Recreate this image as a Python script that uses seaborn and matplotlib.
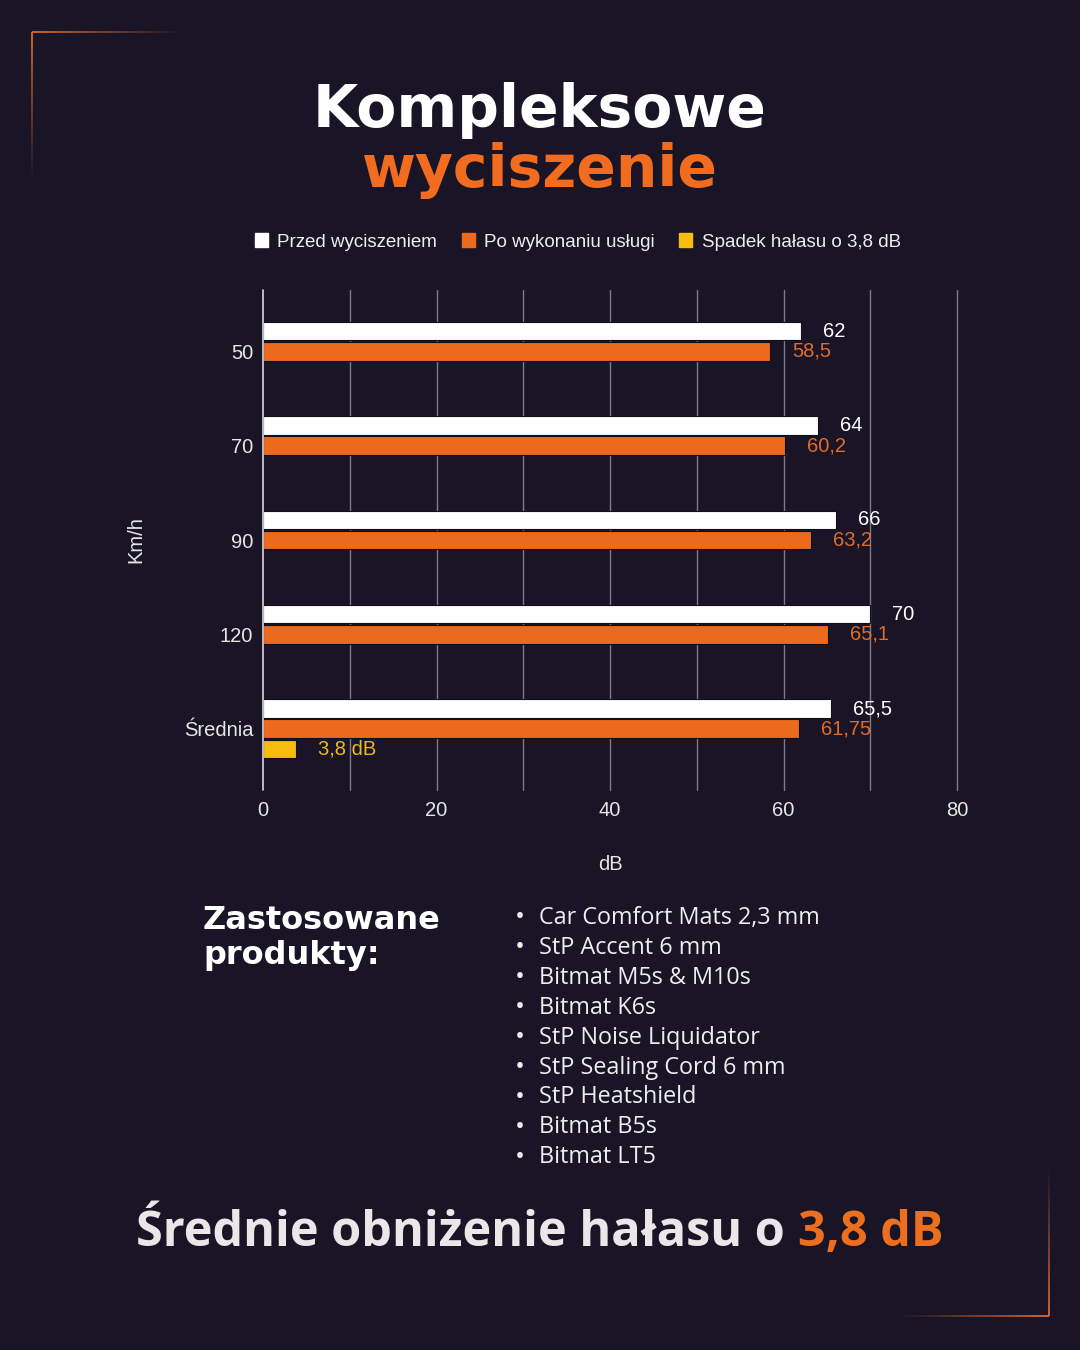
import numpy as np
import pandas as pd
import matplotlib
matplotlib.use("Agg")
import matplotlib.pyplot as plt
import seaborn as sns
from matplotlib.collections import LineCollection
from matplotlib.patches import Rectangle

# ---------------- data ----------------
categories = ["50", "70", "90", "120", "Średnia"]
before_vals = [62, 64, 66, 70, 65.5]
after_vals = [58.5, 60.2, 63.2, 65.1, 61.75]
drop_category = ["Średnia"]
drop_vals = [3.8]
series_names = ["Przed wyciszeniem", "Po wykonaniu usługi", "Spadek hałasu o 3,8 dB"]
x_ticks = [0, 20, 40, 60, 80]
products = ["Car Comfort Mats 2,3 mm", "StP Accent 6 mm", "Bitmat M5s & M10s",
            "Bitmat K6s", "StP Noise Liquidator", "StP Sealing Cord 6 mm",
            "StP Heatshield", "Bitmat B5s", "Bitmat LT5"]

BG = "#191526"
WHITE = "#FFFFFF"
ORANGE = "#EB6A1E"
YELLOW = "#F7BC0C"
ORANGE_TXT = "#E06C28"
YELLOW_TXT = "#E9B824"
GRID = "#7d7a86"

rows = []
for c, v in zip(categories, before_vals):
    rows.append((c, series_names[0], v))
for c, v in zip(categories, after_vals):
    rows.append((c, series_names[1], v))
for c, v in zip(drop_category, drop_vals):
    rows.append((c, series_names[2], v))
df = pd.DataFrame(rows, columns=["kmh", "series", "db"])

sns.set_theme(style="dark")
NARROW = ["Liberation Sans Narrow", "Liberation Sans", "DejaVu Sans"]
plt.rcParams["font.family"] = NARROW

fig = plt.figure(figsize=(10.8, 13.5), dpi=100, facecolor=BG)
ax = fig.add_axes([263 / 1080, 1 - 790 / 1350, (957 - 263) / 1080, 500 / 1350])
ax.set_facecolor(BG)

sns.barplot(data=df, y="kmh", x="db", hue="series", order=categories,
            hue_order=series_names, palette=[WHITE, ORANGE, YELLOW],
            orient="h", width=0.64, gap=0.08, ax=ax, errorbar=None,
            edgecolor="#120e1c", linewidth=0.8, saturation=1)

ax.set_xlim(0, 80)
ax.set_ylim(4.65, -0.65)
ax.set_xticks(x_ticks)
ax.grid(False)
for xv in np.arange(10, 81, 10):
    ax.axvline(xv, color=GRID, lw=1.0, zorder=0, clip_on=False)
ax.axvline(0, color="#d8d6dc", lw=1.2, zorder=3, clip_on=False)
for s in ax.spines.values():
    s.set_visible(False)
ax.tick_params(axis="both", length=0, colors="#e6e6e6", labelsize=14.5)
ax.tick_params(axis="x", pad=8)
ax.tick_params(axis="y", pad=7)
ax.set_xlabel("dB", color="#e6e6e6", fontsize=14.5, labelpad=25)
ax.set_ylabel("Km/h", color="#e6e6e6", fontsize=14.5, labelpad=28)

# value labels
label_sets = [
    ([f"{v:g}".replace(".", ",") for v in before_vals], WHITE),
    ([f"{v:g}".replace(".", ",") for v in after_vals], ORANGE_TXT),
    ([f"{v:g}".replace(".", ",") + " dB" for v in drop_vals], YELLOW_TXT),
]
for cont, (labs, col) in zip(ax.containers, label_sets):
    ax.bar_label(cont, labels=labs, padding=16, color=col, fontsize=14.5)

# legend
leg = ax.get_legend()
if leg is not None:
    leg.remove()
handles = [Rectangle((0, 0), 1, 1, color=c) for c in (WHITE, ORANGE, YELLOW)]
fig.legend(handles, series_names, loc="center", bbox_to_anchor=(0.535, 1 - 242 / 1350),
           ncol=3, frameon=False, handlelength=0.7, handleheight=0.7,
           handletextpad=0.5, columnspacing=1.3, fontsize=13.5, labelcolor="#eeeeee")

# titles
fig.text(0.5, 1 - 127 / 1350, "Kompleksowe", ha="center", va="baseline",
         color=WHITE, fontsize=42, fontweight="bold", family=["DejaVu Sans"])
fig.text(0.5, 1 - 187 / 1350, "wyciszenie", ha="center", va="baseline",
         color="#F26C1F", fontsize=42, fontweight="bold", family=["DejaVu Sans"])

# products
fig.text(203 / 1080, 1 - 929 / 1350, "Zastosowane", ha="left", va="baseline",
         color=WHITE, fontsize=23, fontweight="bold", family=["DejaVu Sans"])
fig.text(203 / 1080, 1 - 964 / 1350, "produkty:", ha="left", va="baseline",
         color=WHITE, fontsize=23, fontweight="bold", family=["DejaVu Sans"])
for i, p in enumerate(products):
    y = 1 - (918 + i * 29.9) / 1350
    fig.text(515 / 1080, y, "•", ha="left", va="center", color="#eeeeee",
             fontsize=19, family=["Open Sans", "DejaVu Sans"])
    fig.text(539 / 1080, y, p, ha="left", va="center", color="#eeeeee",
             fontsize=16.8, family=["Open Sans", "DejaVu Sans"])

# bottom headline in two colours
t1 = fig.text(0, 1 - 1233 / 1350, "Średnie obniżenie hałasu o ", ha="left", va="center",
              color="#ECE6E9", fontsize=35, fontweight="bold", family=["Open Sans", "DejaVu Sans"])
t2 = fig.text(0, 1 - 1233 / 1350, "3,8 dB", ha="left", va="center",
              color="#EB6F1F", fontsize=35, fontweight="bold", family=["Open Sans", "DejaVu Sans"])
fig.canvas.draw()
r = fig.canvas.get_renderer()
w1 = t1.get_window_extent(r).width
w2 = t2.get_window_extent(r).width
x0 = (1080 - (w1 + w2)) / 2
t1.set_x(x0 / 1080)
t2.set_x((x0 + w1) / 1080)

# corner decorations (fading orange lines)
def fade_line(p0, p1, n=40, rgb=(0.93, 0.45, 0.2), a0=0.9):
    xs = np.linspace(p0[0], p1[0], n + 1)
    ys = np.linspace(p0[1], p1[1], n + 1)
    segs = [[(xs[i] / 1080, 1 - ys[i] / 1350), (xs[i + 1] / 1080, 1 - ys[i + 1] / 1350)] for i in range(n)]
    cols = [(*rgb, a0 * (1 - i / n)) for i in range(n)]
    lc = LineCollection(segs, colors=cols, linewidths=1.3, transform=fig.transFigure)
    fig.add_artist(lc)

fade_line((32, 32), (182, 32))
fade_line((32, 32), (32, 178))
fade_line((1049, 1316), (900, 1316))
fade_line((1049, 1316), (1049, 1168))

fig.savefig("out.png", dpi=100, facecolor=BG)
